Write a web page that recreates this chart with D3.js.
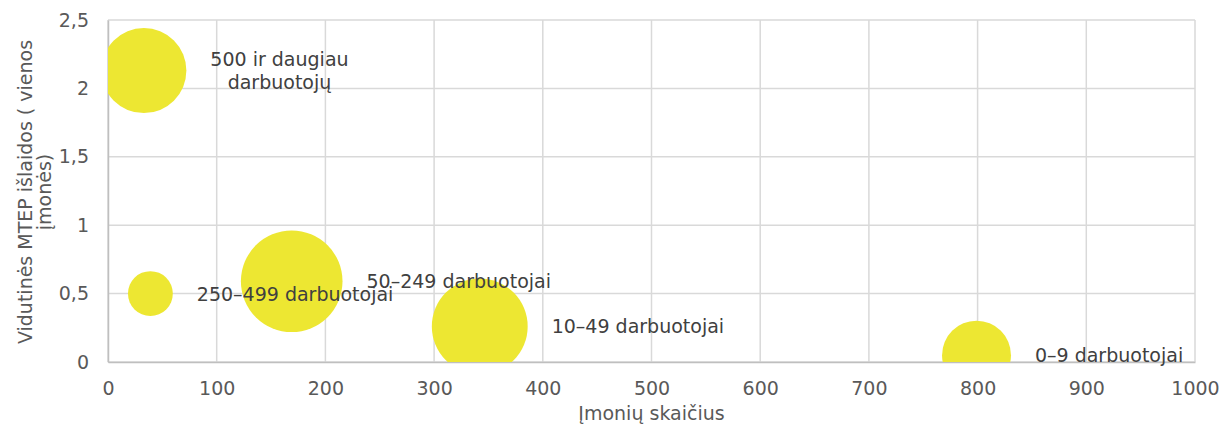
<!DOCTYPE html>
<html>
<head>
<meta charset="utf-8">
<script src="https://cdn.jsdelivr.net/npm/d3@7"></script>
<style>
  html, body { margin: 0; padding: 0; background: #fff; }
  svg { display: block; font-family: "DejaVu Sans", Verdana, sans-serif; }
</style>
</head>
<body>
<svg id="chart" width="1232" height="427"></svg>
<script>
// Company size groups: number of companies, average R&D spending per company, total spending (bubble size)
const groups = [
  ["500 ir daugiau", "darbuotojų"],
  ["250–499 darbuotojai"],
  ["50–249 darbuotojai"],
  ["10–49 darbuotojai"],
  ["0–9 darbuotojai"]
];
const companyCounts = [33, 39, 169, 342, 799];
const avgSpending = [2.13, 0.5, 0.59, 0.26, 0.05];
const bubbleSizes = [70, 19.5, 100, 89, 46];

const xTicks = [0, 100, 200, 300, 400, 500, 600, 700, 800, 900, 1000];
const yTicks = [0, 0.5, 1, 1.5, 2, 2.5];

const xTitle = "Įmonių skaičius";
const yTitle = ["Vidutinės MTEP išlaidos ( vienos", "įmonės)"];

const svg = d3.select("#chart");
const plot = { left: 108, right: 1195, top: 20, bottom: 362 };
const fontSize = 19;

const x = d3.scaleLinear().domain([0, 1000]).range([plot.left, plot.right]);
const y = d3.scaleLinear().domain([0, 2.5]).range([plot.bottom, plot.top]);
const r = d3.scaleSqrt().domain([0, d3.max(bubbleSizes)]).range([0, 50.8]);

const fmt = v => String(v).replace(".", ",");

// Gridlines
const grid = svg.append("g");
grid.selectAll("line.vx").data(xTicks).join("line")
  .attr("x1", d => x(d)).attr("x2", d => x(d))
  .attr("y1", plot.top).attr("y2", plot.bottom)
  .attr("stroke", "#d9d9d9").attr("stroke-width", 1.5);
grid.selectAll("line.hy").data(yTicks).join("line")
  .attr("x1", plot.left).attr("x2", plot.right)
  .attr("y1", d => y(d)).attr("y2", d => y(d))
  .attr("stroke", "#d9d9d9").attr("stroke-width", 1.5);

// Axes
const xAxis = svg.append("g")
  .attr("transform", `translate(0,${plot.bottom})`)
  .call(d3.axisBottom(x).tickValues(xTicks).tickSize(0).tickPadding(20).tickFormat(fmt));
const yAxis = svg.append("g")
  .attr("transform", `translate(${plot.left},0)`)
  .call(d3.axisLeft(y).tickValues(yTicks).tickSize(0).tickPadding(19).tickFormat(fmt));
[xAxis, yAxis].forEach(a => {
  a.select(".domain").attr("stroke", "#bfbfbf").attr("stroke-width", 1.5);
  a.selectAll("text").attr("fill", "#595959").attr("font-size", fontSize)
    .attr("font-family", "DejaVu Sans, Verdana, sans-serif");
});

// Bubbles clipped to the plot area
svg.append("clipPath").attr("id", "plotClip")
  .append("rect")
  .attr("x", plot.left).attr("y", plot.top)
  .attr("width", plot.right - plot.left).attr("height", plot.bottom - plot.top);

const idx = d3.range(groups.length);
svg.append("g").attr("clip-path", "url(#plotClip)")
  .selectAll("circle").data(idx).join("circle")
  .attr("cx", i => x(companyCounts[i]))
  .attr("cy", i => y(avgSpending[i]))
  .attr("r", i => r(bubbleSizes[i]))
  .attr("fill", "#ede732");

// Data labels to the right of each bubble
const lineH = 23;
idx.forEach(i => {
  const lines = groups[i];
  const cx = x(companyCounts[i]);
  const cy = y(avgSpending[i]);
  const left = cx + r(bubbleSizes[i]) + 24;
  const g = svg.append("g");
  const texts = lines.map((t, k) => g.append("text")
    .attr("font-size", fontSize).attr("fill", "#404040")
    .attr("dominant-baseline", "central")
    .attr("y", cy + (k - (lines.length - 1) / 2) * lineH)
    .text(t));
  const widths = texts.map(t => t.node().getComputedTextLength());
  const maxW = d3.max(widths);
  texts.forEach((t, k) => t.attr("x", left + (maxW - widths[k]) / 2));
});

// Axis titles
svg.append("text")
  .attr("x", (plot.left + plot.right) / 2).attr("y", 420)
  .attr("text-anchor", "middle").attr("font-size", fontSize).attr("fill", "#595959")
  .text(xTitle);

const yt = svg.append("text")
  .attr("transform", `translate(25,192) rotate(-90)`)
  .attr("text-anchor", "middle").attr("font-size", fontSize).attr("fill", "#595959");
yTitle.forEach((t, k) => yt.append("tspan")
  .attr("x", 0).attr("dy", k === 0 ? "0.35em" : 19).text(t));
</script>
</body>
</html>
